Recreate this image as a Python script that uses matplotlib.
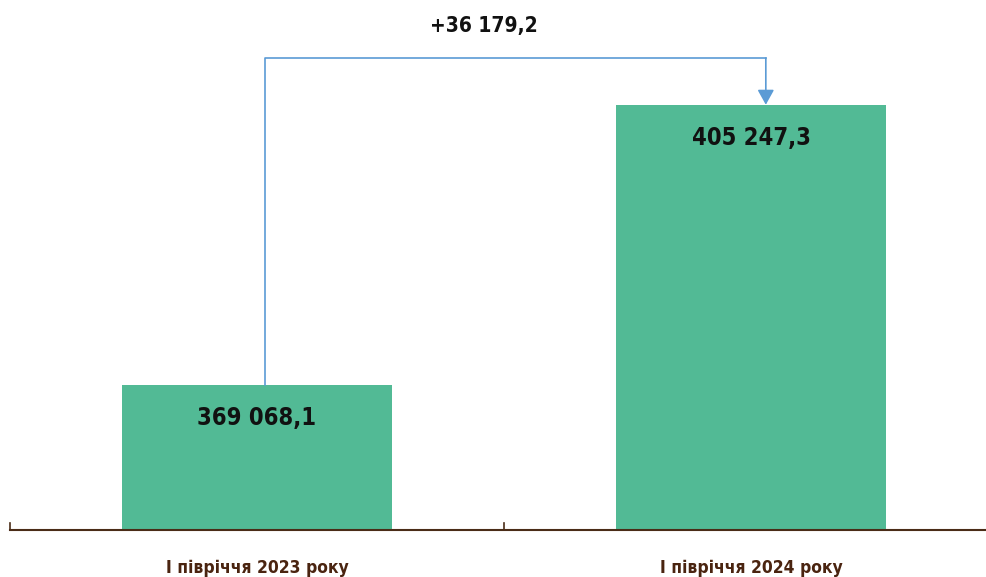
import matplotlib
matplotlib.use("Agg")
import matplotlib.pyplot as plt
from matplotlib import font_manager

categories = ["I півріччя 2023 року", "I півріччя 2024 року"]
values = [369068.1, 405247.3]
value_labels = ["369 068,1", "405 247,3"]
diff_label = "+36 179,2"

names = {f.name for f in font_manager.fontManager.ttflist}
fam = ["Liberation Sans Narrow", "DejaVu Sans"] if "Liberation Sans Narrow" in names else ["DejaVu Sans"]

fig = plt.figure(figsize=(9.87, 5.77), dpi=100)
ax = fig.add_axes([10/987, 1 - 530/577, 988/987, 530/577 - 0.0])
ax.set_xlim(-0.5, 1.5)
ymin = 350300
scale = (values[1] - values[0]) / 280.0
ax.set_ylim(ymin, ymin + 530 * scale)

green = "#52BA95"
ax.bar([0, 1], values, width=0.547, color=green, zorder=2)

for i, (v, lab) in enumerate(zip(values, value_labels)):
    ax.annotate(lab, (i, v), xytext=(0, -24), textcoords="offset points",
                ha="center", va="center", fontsize=17, fontweight="bold",
                family=fam, fontstretch="condensed", color="#111111")

# connector arrow
x0, x1 = 0.016, 1.03
ytop = ymin + (530 - 58) * scale
blue = "#5B9BD5"
ax.plot([x0, x0, x1], [values[0], ytop, ytop], color=blue, lw=1.2, zorder=3)
ax.annotate("", xy=(x1, values[1]), xytext=(x1, ytop),
            arrowprops=dict(arrowstyle="-|>,head_length=0.9,head_width=0.5",
                            color=blue, lw=1.2, shrinkA=0, shrinkB=0), zorder=3)
ax.text(0.46, ytop + 32 * scale, diff_label, ha="center", va="center",
        fontsize=15, fontweight="bold", family=fam, fontstretch="condensed",
        color="#111111")

for s in ["top", "right", "left"]:
    ax.spines[s].set_visible(False)
ax.spines["bottom"].set_color("#4a2c17")
ax.spines["bottom"].set_linewidth(1.5)
ax.set_yticks([])
ax.set_xticks([0, 1])
ax.set_xticklabels(categories, fontsize=12.5, fontweight="bold", family=fam,
                   fontstretch="condensed", color="#4a2410")
ax.tick_params(axis="x", length=0, pad=21)
# category boundary ticks
for xb in [-0.5, 0.5, 1.5]:
    ax.plot([xb, xb], [ymin, ymin + 7 * scale], color="#4a2c17", lw=1.2, clip_on=False)

fig.savefig("out.png", dpi=100)
